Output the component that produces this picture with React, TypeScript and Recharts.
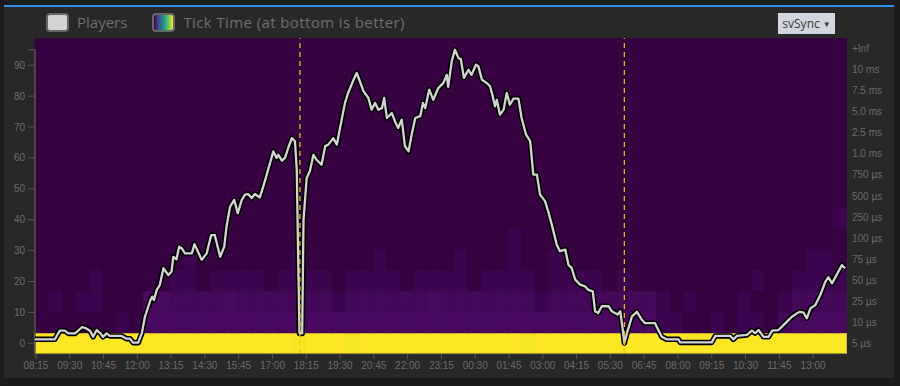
import { BarChart, Bar, Cell, XAxis, YAxis, LineChart, Line, ReferenceLine } from "recharts";

// x values are minutes since 08:15 on the first day
const TIME_TICKS = [0, 75, 150, 225, 300, 375, 450, 525, 600, 675, 750, 825, 900, 975, 1050, 1125, 1200, 1275, 1350, 1425, 1500, 1575, 1650, 1725];
const TIME_LABELS = [
  "08:15", "09:30", "10:45", "12:00", "13:15", "14:30", "15:45", "17:00", "18:15", "19:30", "20:45", "22:00",
  "23:15", "00:30", "01:45", "03:00", "04:15", "05:30", "06:45", "08:00", "09:15", "10:30", "11:45", "13:00",
];
const PLAYER_TICKS = [0, 10, 20, 30, 40, 50, 60, 70, 80, 90];
const PLAYER_AXIS_TOP = 95;

// heatmap buckets, bottom to top
const BUCKET_LABELS = ["5 µs", "10 µs", "25 µs", "50 µs", "75 µs", "100 µs", "250 µs", "500 µs", "750 µs", "1.0 ms", "2.5 ms", "5.0 ms", "7.5 ms", "10 ms", "+Inf"];

const PLAYER_MINUTES = [
  -2, 42, 53, 64, 72, 87, 102, 109, 120, 127,
  135, 142, 149, 157, 164, 190, 201, 209, 216, 227,
  235, 242, 253, 258, 262, 268, 275, 283, 294, 301,
  305, 312, 318, 324, 331, 346, 352, 368, 379, 389,
  397, 409, 418, 423, 431, 440, 448, 457, 464, 471,
  479, 486, 497, 508, 527, 534, 538, 546, 553, 560,
  568, 575, 579, 582, 585, 591, 594, 601, 608, 616,
  623, 634, 642, 649, 660, 668, 675, 686, 693, 705,
  712, 719, 727, 738, 745, 753, 760, 768, 773, 779,
  790, 797, 804, 812, 819, 827, 834, 842, 853, 859,
  864, 873, 882, 893, 904, 912, 915, 923, 930, 938,
  943, 950, 960, 967, 977, 982, 990, 1001, 1008, 1014,
  1019, 1023, 1030, 1038, 1045, 1052, 1060, 1071, 1078, 1088,
  1097, 1104, 1112, 1119, 1130, 1137, 1145, 1156, 1163, 1175,
  1182, 1189, 1197, 1208, 1219, 1226, 1236, 1241, 1248, 1256,
  1271, 1278, 1291, 1297, 1303, 1306, 1313, 1323, 1334, 1345,
  1352, 1374, 1389, 1400, 1426, 1430, 1500, 1508, 1541, 1548,
  1556, 1578, 1589, 1596, 1604, 1615, 1626, 1634, 1648, 1656,
  1667, 1678, 1689, 1696, 1704, 1711, 1719, 1730, 1741, 1752,
  1759, 1767, 1778, 1789, 1796,
];

const PLAYER_COUNTS = [
  1.3, 1.3, 4.1, 4.1, 3.2, 3.2, 5.2, 5.0, 4.1, 2.1,
  4.3, 3.4, 2.1, 3.2, 2.4, 2.4, 1.5, 1.5, 0.2, 0.2,
  3.2, 8.6, 13.5, 15.1, 14.0, 17.2, 18.9, 24.3, 22.1, 23.2,
  28.0, 27.2, 31.3, 30.7, 29.1, 29.1, 32.1, 27.0, 29.1, 35.0,
  35.0, 28.0, 31.3, 37.7, 44.2, 46.4, 42.1, 46.4, 48.1, 48.3,
  47.0, 48.3, 47.2, 52.4, 62.1, 60.0, 61.0, 59.1, 60.0, 63.2,
  66.4, 65.4, 56.0, 29.0, 3.2, 3.2, 40.0, 53.5, 55.7, 61.0,
  59.4, 57.8, 63.8, 64.3, 66.4, 64.3, 69.7, 77.8, 81.0, 85.3,
  87.5, 84.8, 81.6, 79.4, 75.6, 77.8, 75.6, 76.1, 79.4, 72.9,
  74.5, 71.8, 69.7, 72.4, 63.8, 62.1, 67.5, 72.9, 73.5, 77.8,
  76.1, 82.1, 78.8, 82.6, 84.2, 86.9, 83.0, 91.3, 95.0, 92.3,
  92.0, 85.9, 88.5, 86.9, 90.2, 89.7, 85.3, 84.2, 83.2, 79.9,
  76.7, 78.8, 74.0, 75.6, 81.0, 77.2, 79.2, 79.2, 72.9, 67.5,
  65.4, 54.6, 54.6, 48.1, 46.0, 42.7, 38.4, 31.9, 29.8, 30.3,
  25.4, 24.4, 20.6, 19.0, 18.4, 17.3, 16.8, 10.4, 9.8, 12.0,
  12.0, 10.4, 9.3, 10.4, 3.9, 0.1, 3.9, 8.7, 10.2, 7.6,
  6.5, 6.5, 2.1, 1.3, 1.3, 0.3, 0.3, 2.4, 2.4, 1.3,
  2.4, 2.7, 4.1, 3.3, 4.3, 2.1, 2.1, 4.1, 4.3, 5.4,
  7.0, 8.6, 9.7, 10.2, 9.9, 8.1, 11.3, 12.4, 15.6, 19.9,
  21.4, 19.4, 22.4, 25.3, 24.3,
];

// server restarts
const RESTART_MINUTES = [586, 1306];

// heatmap: 60 half-hour columns, one string per bucket (bottom to top), one char per column
const EMPTY_ROW = "000000000000000000000000000000000000000000000000000000000000";
const HEAT_ROWS = [
  "YYYYYYYYYYYYYYYYYYYyYYYyYYYYYYYYYYYYyYYYYYYYYYYYYYYYYYYYYYYY",
  "00000010" + "3333333333" + "3333333333" + "3333333333" + "33333333" + "1100101102" + "3333",
  "01011000" + "33" + "2222322222221222222322222221" + "22222222" + "1010001001" + "2222",
  "0000100000" + "1101111011" + "1101111011" + "1101111011" + "1101" + "000000000" + "1" + "00" + "1111",
  "00000000000" + "1" + "0000000" + "1" + "00000" + "1" + "00000" + "1" + "000" + "1" + "00" + "1" + "000000000000000000" + "11" + "0",
  "00000000000000000000000000000000000" + "1" + "000000000000000000000000",
  "00000000000000000000000000000000000000000000000000000000000" + "1",
  EMPTY_ROW, EMPTY_ROW, EMPTY_ROW, EMPTY_ROW, EMPTY_ROW, EMPTY_ROW, EMPTY_ROW, EMPTY_ROW,
];

const HEAT_COLORS: Record<string, string> = {
  "0": "#360241",
  "1": "#3d054f",
  "2": "#440859",
  "3": "#48095f",
  Y: "#fde725",
  y: "#f6e626",
};

const playerData = PLAYER_MINUTES.map((t, i) => ({ t, p: PLAYER_COUNTS[i] }));

const heatData = Array.from({ length: HEAT_ROWS[0].length }, (_, c) => {
  const d: Record<string, number> = { c };
  HEAT_ROWS.forEach((_, r) => (d["r" + r] = 1));
  return d;
});

const axisTick = { fill: "#6b6b6b", fontSize: 10 };

function Heatmap() {
  return (
    <BarChart
      width={900}
      height={386}
      data={heatData}
      margin={{ top: 38, right: 4, bottom: 32, left: 35 }}
      barCategoryGap={0}
      barGap={0}
    >
      <XAxis dataKey="c" hide />
      <YAxis
        orientation="right"
        width={50}
        domain={[0, 15]}
        ticks={BUCKET_LABELS.map((_, i) => i + 0.5)}
        tickFormatter={(v) => BUCKET_LABELS[Math.floor(v)]}
        interval={0}
        tick={axisTick}
        tickLine={false}
        axisLine={false}
        tickSize={4}
        tickMargin={2}
        allowDataOverflow
      />
      {HEAT_ROWS.map((row, r) => (
        <Bar key={r} dataKey={"r" + r} stackId="h" isAnimationActive={false}>
          {heatData.map((_, c) => (
            <Cell key={c} fill={HEAT_COLORS[row[c]]} stroke={HEAT_COLORS[row[c]]} strokeWidth={0.6} />
          ))}
        </Bar>
      ))}
    </BarChart>
  );
}

function PlayersLine() {
  return (
    <LineChart width={900} height={386} data={playerData} margin={{ top: 38, right: 54, bottom: 12, left: 5 }}>
      <XAxis
        dataKey="t"
        type="number"
        domain={[-2, 1798]}
        ticks={TIME_TICKS}
        tickFormatter={(v) => TIME_LABELS[TIME_TICKS.indexOf(v)]}
        interval={0}
        height={20}
        tick={axisTick}
        tickLine={{ stroke: "#555" }}
        axisLine={{ stroke: "#3a3a3a" }}
        tickSize={5}
        tickMargin={3}
        allowDataOverflow
      />
      <YAxis
        yAxisId="p"
        domain={[-3.46, 98.8]}
        ticks={[...PLAYER_TICKS, PLAYER_AXIS_TOP]}
        tickFormatter={(v) => (v === PLAYER_AXIS_TOP ? "" : String(v))}
        interval={0}
        width={30}
        tick={axisTick}
        tickLine={{ stroke: "#555" }}
        axisLine={false}
        tickSize={7}
        tickMargin={3}
        allowDataOverflow
      />
      <ReferenceLine
        yAxisId="p"
        segment={[{ x: -2, y: -3.46 }, { x: -2, y: PLAYER_AXIS_TOP }]}
        stroke="#555"
        strokeWidth={1.5}
        ifOverflow="visible"
      />
      <Line yAxisId="p" dataKey="p" type="linear" stroke="#000" strokeWidth={5.5} strokeLinejoin="round" dot={false} isAnimationActive={false} />
      <Line yAxisId="p" dataKey="p" type="linear" stroke="#d4d4d4" strokeWidth={2.3} strokeLinejoin="round" dot={false} isAnimationActive={false} />
      {RESTART_MINUTES.map((m) => (
        <ReferenceLine key={m} yAxisId="p" x={m} stroke="#f5c800" strokeWidth={1.2} strokeDasharray="5 4" />
      ))}
    </LineChart>
  );
}

export default function App() {
  return (
    <div
      style={{
        position: "absolute",
        left: 0,
        top: 0,
        width: 900,
        height: 386,
        background: "#1b1b1b",
        fontFamily: "'Liberation Sans', Arial, sans-serif",
        overflow: "hidden",
      }}
    >
      <div style={{ position: "absolute", left: 4, top: 5, width: 890, height: 2, background: "#3391ea" }} />
      <div style={{ position: "absolute", left: 4, top: 7, width: 890, height: 371, background: "#282828" }} />

      <div
        style={{
          position: "absolute",
          left: 46,
          top: 12,
          height: 20,
          display: "flex",
          alignItems: "center",
          fontFamily: "'Open Sans', sans-serif",
          fontSize: 15,
          color: "#6e6e6e",
        }}
      >
        <span
          style={{
            width: 19,
            height: 15,
            border: "2px solid #666",
            borderRadius: 4,
            background: "#d3d3d3",
            display: "inline-block",
          }}
        />
        <span style={{ marginLeft: 8 }}>Players</span>
        <span
          style={{
            marginLeft: 25,
            width: 19,
            height: 15,
            border: "2px solid #666",
            borderRadius: 4,
            background: "linear-gradient(to right, #440154, #3b528b, #21918c, #5ec962, #fde725)",
            display: "inline-block",
          }}
        />
        <span style={{ marginLeft: 8, letterSpacing: 0.4 }}>Tick Time (at bottom is better)</span>
      </div>

      <div
        style={{
          position: "absolute",
          left: 778,
          top: 13,
          width: 57,
          height: 21,
          background: "#d2d6de",
          color: "#3c3c3c",
          fontFamily: "'Open Sans', sans-serif",
          fontSize: 12,
          display: "flex",
          alignItems: "center",
          justifyContent: "center",
        }}
      >
        svSync <span style={{ fontSize: 8, marginLeft: 3 }}>▼</span>
      </div>

      <div style={{ position: "absolute", left: 0, top: 0 }}>
        <Heatmap />
      </div>
      <div style={{ position: "absolute", left: 0, top: 0 }}>
        <PlayersLine />
      </div>
    </div>
  );
}
